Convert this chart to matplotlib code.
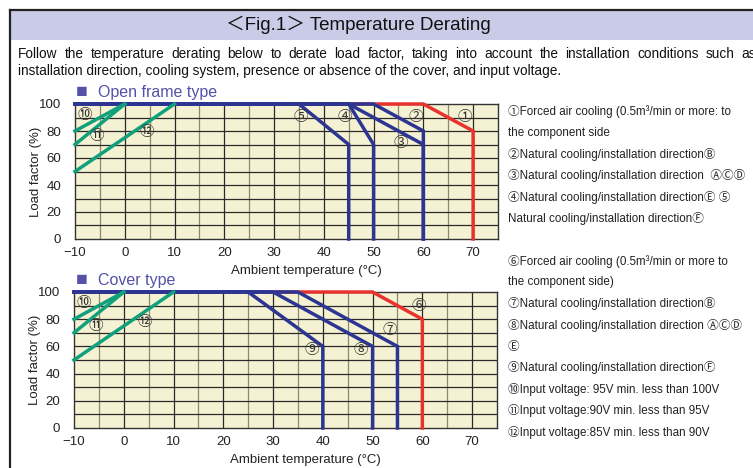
import matplotlib.pyplot as plt
from matplotlib.lines import Line2D
from matplotlib.patches import Rectangle

plt.rcParams['font.family'] = ['Liberation Sans', 'Noto Sans CJK JP', 'DejaVu Sans']

# ---- data ----
temp_ticks = [-10, 0, 10, 20, 30, 40, 50, 60, 70]
load_ticks = [0, 20, 40, 60, 80, 100]

# Open frame type
open_1_t = [-10, 60, 70, 70]
open_1_l = [100, 100, 80, 0]
open_2_t = [-10, 50, 60, 60]
open_2_l = [100, 100, 80, 0]
open_3_t = [-10, 45, 60, 60]
open_3_l = [100, 100, 70, 0]
open_4_t = [-10, 45, 50, 50]
open_4_l = [100, 100, 70, 0]
open_5_t = [-10, 35, 45, 45]
open_5_l = [100, 100, 70, 0]

# Cover type
cover_6_t = [-10, 50, 60, 60]
cover_6_l = [100, 100, 80, 0]
cover_7_t = [-10, 35, 55, 55]
cover_7_l = [100, 100, 60, 0]
cover_8_t = [-10, 30, 50, 50]
cover_8_l = [100, 100, 60, 0]
cover_9_t = [-10, 25, 40, 40]
cover_9_l = [100, 100, 60, 0]

# Input voltage lines (same on both charts)
volt_10_t = [-10, 0]
volt_10_l = [80, 100]
volt_11_t = [-10, 0]
volt_11_l = [70, 100]
volt_12_t = [-10, 10]
volt_12_l = [50, 100]

legend_top = [
    "①Forced air cooling (0.5m³/min or more: to",
    "the component side",
    "②Natural cooling/installation directionⒷ",
    "③Natural cooling/installation direction  ⒶⒸⒹ",
    "④Natural cooling/installation directionⒺ ⑤",
    "Natural cooling/installation directionⒻ",
]
legend_bottom = [
    "⑥Forced air cooling (0.5m³/min or more to",
    "the component side)",
    "⑦Natural cooling/installation directionⒷ",
    "⑧Natural cooling/installation direction ⒶⒸⒹ",
    "Ⓔ",
    "⑨Natural cooling/installation directionⒻ",
    "⑩Input voltage: 95V min. less than 100V",
    "⑪Input voltage:90V min. less than 95V",
    "⑫Input voltage:85V min. less than 90V",
]

RED = '#e8322e'
BLUE = '#2c3592'
GREEN = '#10a07c'
BG = '#f5f2d3'
PURPLE = '#5550a8'

W, H = 753, 468
fig = plt.figure(figsize=(W / 100, H / 100), dpi=100)


def fx(px):
    return px / W


def fy(py):
    return 1 - py / H


# frame and title band
fig.add_artist(Rectangle((fx(10), fy(40)), 1 - fx(10), fy(10) - fy(40),
                         transform=fig.transFigure, facecolor='#cacbe7', edgecolor='none'))
fig.add_artist(Line2D([fx(10), 1], [fy(10), fy(10)], transform=fig.transFigure,
                      color='#222222', lw=1.6))
fig.add_artist(Line2D([fx(10), fx(10)], [fy(10), 0], transform=fig.transFigure,
                      color='#222222', lw=1.6))

fig.text(fx(358), fy(25), "＜Fig.1＞ Temperature Derating", ha='center', va='center',
         fontsize=13.5, color='#111111')

# first line of the note is justified across the full width
line1 = ("Follow the temperature derating below to derate load factor, taking into account "
         "the installation conditions such as")
renderer = fig.canvas.get_renderer()
words = [fig.text(0, fy(54), w, ha='left', va='center', fontsize=9.8, color='#111111')
         for w in line1.split(' ')]
widths = [t.get_window_extent(renderer).width for t in words]
gap = (756 - 18 - sum(widths)) / (len(words) - 1)
xpos = 18
for t, w in zip(words, widths):
    t.set_x(fx(xpos))
    xpos += w + gap
fig.text(fx(18), fy(71), "installation direction, cooling system, presence or absence of the cover, "
         "and input voltage.", ha='left', va='center', fontsize=9.8, color='#111111')


def setup(ax, title, title_y):
    ax.set_facecolor(BG)
    ax.set_xlim(-10, 75)
    ax.set_ylim(0, 100)
    for x in range(-5, 75, 10):
        ax.axvline(x, color='#8a8870', lw=0.9, zorder=1)
    for x in range(0, 75, 10):
        ax.axvline(x, color='#2a2a2a', lw=0.9, zorder=1)
    for y in range(10, 100, 10):
        ax.axhline(y, color='#2a2a2a', lw=0.9, zorder=1)
    for s in ax.spines.values():
        s.set_color('#333333')
        s.set_linewidth(1.0)
    ax.set_xticks(temp_ticks)
    ax.set_xticklabels(['−10'] + [str(t) for t in temp_ticks[1:]])
    ax.set_yticks(load_ticks)
    ax.tick_params(length=0, labelsize=9.5, colors='#222222')
    ax.tick_params(axis='y', pad=10)
    ax.tick_params(axis='x', pad=6)
    ax.set_ylabel("Load factor (%)", fontsize=9.5, color='#222222')
    ax.yaxis.set_label_coords(-0.078, 0.5)
    ax.set_xlabel("Ambient temperature (°C)", fontsize=9.5, color='#222222')
    ax.xaxis.set_label_coords(0.546, -0.19)
    fig.text(fx(76), fy(title_y), "■", ha='left', va='center', fontsize=14, color=PURPLE)
    fig.text(fx(98), fy(title_y), title, ha='left', va='center', fontsize=11.5, color=PURPLE)


def curve(ax, t, l, c):
    ax.plot(t, l, color=c, lw=2.5, solid_joinstyle='miter', clip_on=False, zorder=3)


def mark(ax, x, y, s):
    ax.text(x, y, s, ha='center', va='center', fontsize=10.5, color='#333333', zorder=4)


# Open frame type
ax1 = fig.add_axes([fx(75), fy(239), fx(498) - fx(75), fy(104) - fy(239)])
setup(ax1, "Open frame type", 92)
curve(ax1, open_1_t, open_1_l, RED)
for t, l in [(open_2_t, open_2_l), (open_3_t, open_3_l), (open_4_t, open_4_l), (open_5_t, open_5_l)]:
    curve(ax1, t, l, BLUE)
for t, l in [(volt_10_t, volt_10_l), (volt_11_t, volt_11_l), (volt_12_t, volt_12_l)]:
    curve(ax1, t, l, GREEN)
mark(ax1, 68.4, 90, "①")
mark(ax1, 58.4, 90, "②")
mark(ax1, 55.4, 71, "③")
mark(ax1, 44.3, 90, "④")
mark(ax1, 35.4, 90, "⑤")
mark(ax1, -8, 92, "⑩")
mark(ax1, -5.7, 76, "⑪")
mark(ax1, 4.5, 79, "⑫")

# Cover type
ax2 = fig.add_axes([fx(74), fy(428), fx(497) - fx(74), fy(292) - fy(428)])
setup(ax2, "Cover type", 281)
curve(ax2, cover_6_t, cover_6_l, RED)
for t, l in [(cover_7_t, cover_7_l), (cover_8_t, cover_8_l), (cover_9_t, cover_9_l)]:
    curve(ax2, t, l, BLUE)
for t, l in [(volt_10_t, volt_10_l), (volt_11_t, volt_11_l), (volt_12_t, volt_12_l)]:
    curve(ax2, t, l, GREEN)
mark(ax2, 59.2, 90, "⑥")
mark(ax2, 53.5, 72, "⑦")
mark(ax2, 47.7, 57, "⑧")
mark(ax2, 37.7, 57, "⑨")
mark(ax2, -8, 92, "⑩")
mark(ax2, -5.7, 75, "⑪")
mark(ax2, 4.3, 78, "⑫")

# explanation texts on the right
for i, s in enumerate(legend_top):
    fig.text(fx(508), fy(112 + i * 21.3), s, ha='left', va='center', fontsize=8.4, color='#222222')
for i, s in enumerate(legend_bottom):
    fig.text(fx(508), fy(261 + i * 21.4), s, ha='left', va='center', fontsize=8.4, color='#222222')

fig.savefig('out.png', dpi=100)
